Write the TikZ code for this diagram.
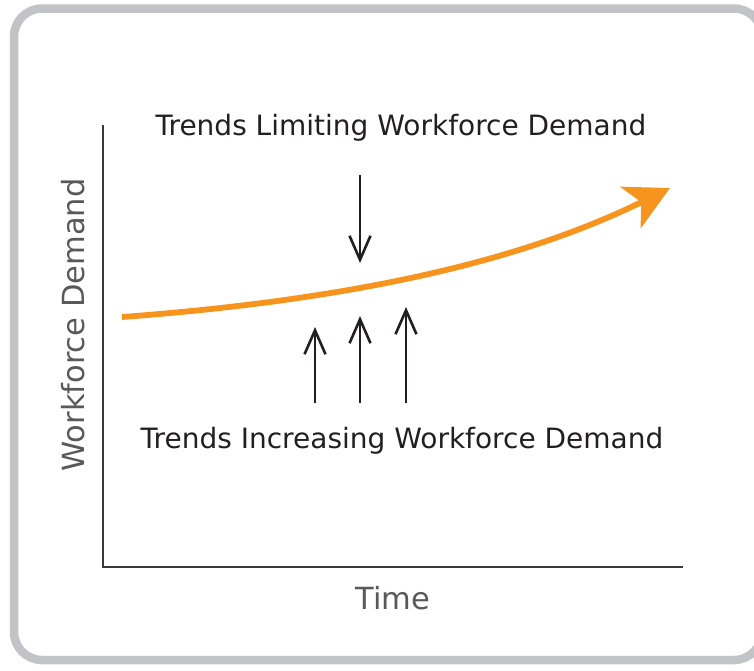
\documentclass[tikz,border=0pt]{standalone}
\usepackage{fontspec}
\setmainfont{DejaVu Sans}
\usepackage{tikz}
\usepackage{xcolor}
\usetikzlibrary{arrows.meta}

\definecolor{framegray}{HTML}{C2C3C6}
\definecolor{axisgray}{HTML}{3A3A3C}
\definecolor{labelgray}{HTML}{58595B}
\definecolor{trendorange}{HTML}{F7941D}
\definecolor{trendblack}{HTML}{231F20}

\tikzset{
	trendlabel/.style={trendblack, font=\fontsize{28}{32}\selectfont},
	axislabel/.style={labelgray, font=\fontsize{30.5}{34}\selectfont},
	force/.style={trendblack, line width=2.6pt, -{Straight Barb[length=24pt, width=21pt, line width=2.6pt]}}
}

\begin{document}
\begin{tikzpicture}[x=1pt, y=-1pt]
		\useasboundingbox (0, 0) rectangle (754, 670);
		\draw[framegray, line width=8.5pt, rounded corners=28pt] (14, 8.5) rectangle (762, 660);
		% axes
		\coordinate (origin) at (103, 567);
		\coordinate (ytop) at (103, 125);
		\coordinate (xend) at (683, 567);
		\draw[axisgray, line width=2.6pt] (ytop) -- (origin) -- (xend);
		\node[axislabel] (time) at (393, 598) {Time};
		\node[axislabel, rotate=90] (demand) at (73, 325) {Workforce Demand};
		% demand curve
		\coordinate (cstart) at (122, 317);
		\coordinate (cend) at (670, 188);
		\draw[trendorange, line width=5.8pt, -{Stealth[length=44pt, width=46pt, inset=12pt]}]
			(cstart) .. controls (350, 300) and (520, 262) .. (cend);
		% trends
		\node[trendlabel] (limit) at (401, 128) {Trends Limiting Workforce Demand};
		\node[trendlabel] (increase) at (402, 441) {Trends Increasing Workforce Demand};
		\coordinate (down) at (360, 263);
		\draw[force] (limit.south -| down) ++(0, 30) -- (down);
		\coordinate (upa) at (315, 327);
		\coordinate (upb) at (360, 316);
		\coordinate (upc) at (406, 307);
		\foreach \tip in {upa, upb, upc}
			\draw[force] (\tip |- 0, 403) -- (\tip);
	\end{tikzpicture}
\end{document}
